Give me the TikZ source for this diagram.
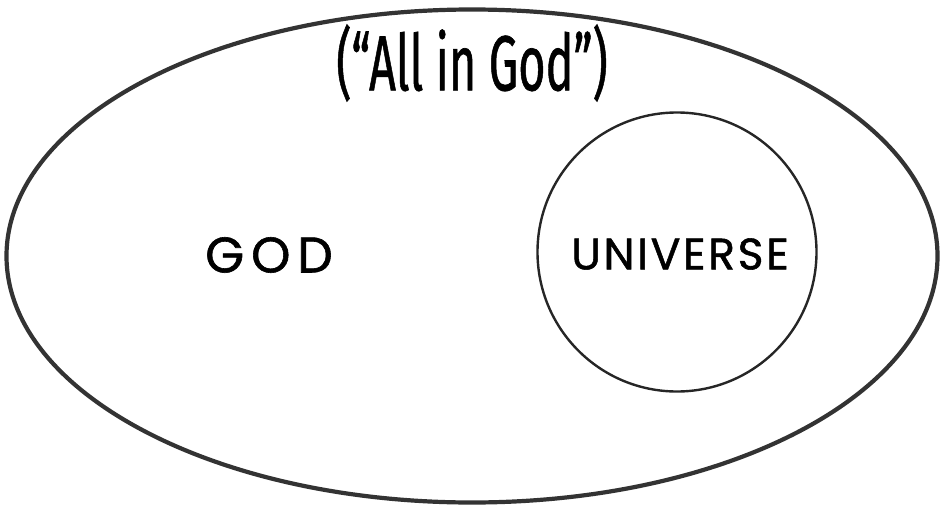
\documentclass[tikz,border=0pt]{standalone}
\usepackage{fontspec}
\setmainfont{Poppins}
\newfontfamily\handfont{Fira Sans}
\usepackage{xcolor}
\usepackage{tikz}
\usetikzlibrary{shapes.geometric,positioning}

\begin{document}
\begin{tikzpicture}[
  x=1pt,y=-1pt,
  pencil/.style={draw=black!80,line width=4.2pt},
  whole/.style={pencil,ellipse,minimum width=931pt,minimum height=493pt,inner sep=0pt},
  part/.style={draw=black!85,line width=2.4pt,circle,minimum size=279pt,inner sep=0pt},
  label/.style={font=\fontsize{44}{44}\selectfont\addfontfeatures{LetterSpace=6,FakeBold=1.2},inner sep=0pt},
]
\useasboundingbox (0,0) rectangle (947,519);
\node[whole] (god) at (472,256) {};
\node[part] (universe) at (677,252) {};
\node[label,font=\fontsize{50}{50}\selectfont\addfontfeatures{LetterSpace=14,FakeBold=1.2}] (godlabel) at (269,255) {GOD};
\node[label] (unilabel) at (680,254) {UNIVERSE};
\node[font=\handfont\fontsize{78}{78}\selectfont\addfontfeatures{FakeBold=1},xscale=0.6,inner sep=0pt] (motto) at (472,63) {(“All in God”)};
\end{tikzpicture}
\end{document}
